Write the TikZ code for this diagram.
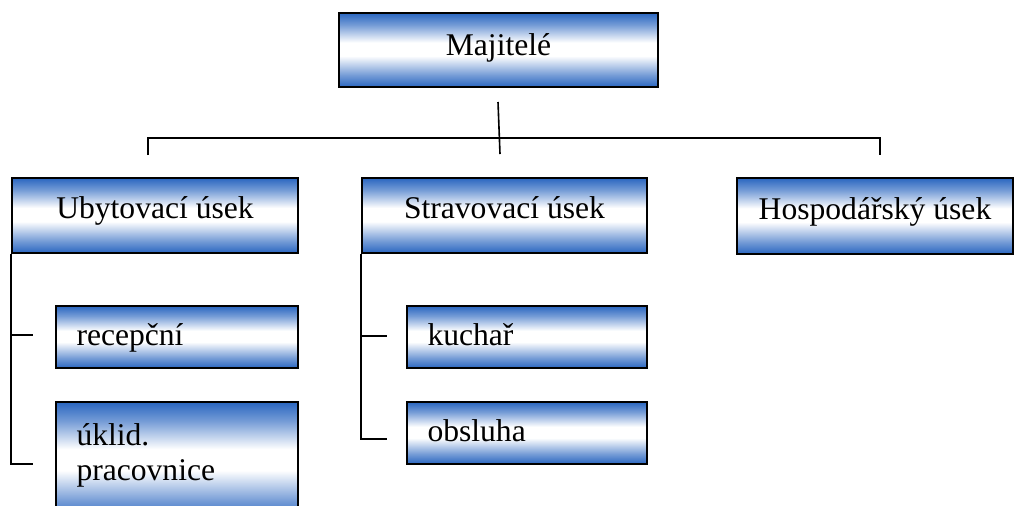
\documentclass[tikz,border=0pt]{standalone}
\usepackage{fontspec}
\setmainfont{Liberation Serif}
\usetikzlibrary{calc}
\definecolor{boxblue}{RGB}{42,102,192}
\pgfdeclareverticalshading{boxshade}{100bp}{color(0bp)=(boxblue); color(25bp)=(boxblue); color(33bp)=(boxblue!65); color(46bp)=(white); color(55bp)=(white); color(67bp)=(boxblue!65); color(75bp)=(boxblue); color(100bp)=(boxblue)}

\begin{document}
\begin{tikzpicture}[x=0.5pt,y=-0.5pt,
  unitbox/.style={draw=black,line width=1pt,shading=boxshade,inner sep=0pt,
    minimum height=37.5pt,text height=8pt,text depth=5pt,
    font=\fontsize{15.8}{17.5}\selectfont},
  subbox/.style={unitbox,minimum height=31pt,align=left,inner xsep=10.5pt,
    text width=100pt,text height=10pt,text depth=2pt},
  link/.style={line width=0.8pt}]
\useasboundingbox (0,0) rectangle (1015,505);
\node[unitbox,minimum width=159.5pt,minimum height=37pt,text depth=3pt] (maj) at (498.5,50) {Majitelé};
\node[unitbox,minimum width=143pt] (uby) at (155,215.5) {Ubytovací úsek};
\node[unitbox,minimum width=142.5pt] (stra) at (504.5,215.5) {Stravovací úsek};
\node[unitbox,minimum width=138pt,minimum height=38pt] (hosp) at (875,216) {Hospodářský úsek};
\node[subbox] (rec) at (176.5,337) {recepční};
\node[subbox,minimum height=59pt,text depth=26pt] (ukl) at (176.5,461) {úklid.\\pracovnice};
\node[subbox,text width=99pt] (kuch) at (526.5,337) {kuchař};
\node[subbox,text width=99pt] (obs) at (526.5,433) {obsluha};
% spojnice
\coordinate (mtop) at (498,102);
\coordinate (mbot) at (500,154);
\coordinate (lt) at (148,155);
\coordinate (rt) at (880,155);
\coordinate (u1) at (33,335);
\coordinate (u2) at (33,464);
\coordinate (s1) at (387,336);
\coordinate (s2) at (387,439);
\draw[link] (mtop) -- (mbot);
\draw[link] (lt) -- ++(0,-17) -| (rt);
\draw[link] (uby.south west) |- (u2);
\draw[link] (uby.south west |- u1) -- (u1);
\draw[link] (stra.south west) |- (s2);
\draw[link] (stra.south west |- s1) -- (s1);
\end{tikzpicture}
\end{document}
